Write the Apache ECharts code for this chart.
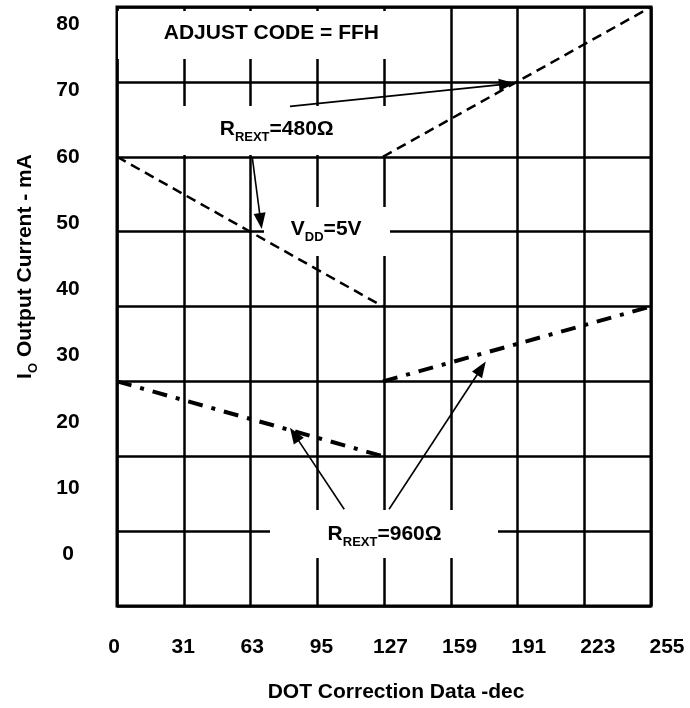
<!DOCTYPE html>
<html>
<head>
<meta charset="utf-8">
<script src="https://cdn.jsdelivr.net/npm/echarts@6/dist/echarts.min.js"></script>
<style>
  html, body { margin: 0; padding: 0; background: #fff; }
  #chart { width: 690px; height: 708px; }
</style>
</head>
<body>
<div id="chart"></div>
<script>
// Tick labels
const xTickLabels = ['0', '31', '63', '95', '127', '159', '191', '223', '255'];
const yTickValues = [0, 10, 20, 30, 40, 50, 60, 70, 80];

// Output current (mA) vs. dot-correction code, R_REXT = 480 Ω
const r480Low  = [[0, 60.0], [127, 37.4]];
const r480High = [[127, 60.0], [255, 82.6]];
// Output current (mA) vs. dot-correction code, R_REXT = 960 Ω
const r960Low  = [[0, 26.1], [127, 14.8]];
const r960High = [[127, 26.1], [255, 37.4]];

// Callout arrows: [from, to] in data units (code, mA)
const arrows = [
  [[82.6, 67.6], [190, 71.1]],
  [[64.6, 59.9], [69.1, 49.1]],
  [[108.5, 6.8], [82.6, 19.1]],
  [[129.9, 6.8], [176.1, 29.1]]
];

const FONT = "'Liberation Sans', Arial, Helvetica, sans-serif";
const Y_MIN = -7.8, Y_MAX = 82.6;

const main = { fontSize: 21, fontWeight: 'bold', fontFamily: FONT, color: '#000', lineHeight: 22, verticalAlign: 'top' };
const sub  = { fontSize: 13, fontWeight: 'bold', fontFamily: FONT, color: '#000', lineHeight: 37, verticalAlign: 'middle' };

const chart = echarts.init(document.getElementById('chart'));

const lineSeries = (data, style) => ({
  type: 'line', xAxisIndex: 0, yAxisIndex: 1, data: data,
  symbol: 'none', silent: true, lineStyle: style, z: 3
});
const dashed = { color: '#000', width: 2.5, type: [10, 6] };
const dashDot = { color: '#000', width: 4, type: [15, 9, 4, 9] };

chart.setOption({
  animation: false,
  backgroundColor: '#fff',
  textStyle: { fontFamily: FONT },
  grid: [
    { left: 117, top: 7, width: 534, height: 602, show: true, borderColor: '#000', borderWidth: 3, backgroundColor: 'transparent' },
    { left: 114, top: 7, width: 553, height: 602 }
  ],
  xAxis: [
    {
      gridIndex: 0, type: 'value', min: 0, max: 255, interval: 255 / 8,
      axisLine: { show: false }, axisTick: { show: false }, axisLabel: { show: false },
      splitLine: { show: true, lineStyle: { color: '#000', width: 2.5 } },
      name: 'DOT Correction Data -dec', nameLocation: 'middle', nameGap: 76,
      nameTextStyle: { fontSize: 21, fontWeight: 'bold', color: '#000', fontFamily: FONT, padding: [0, 0, 0, 24] }
    },
    {
      gridIndex: 1, type: 'category', data: xTickLabels, boundaryGap: false,
      axisLine: { show: false }, axisTick: { show: false }, splitLine: { show: false },
      axisLabel: { interval: 0, margin: 28, fontSize: 21, fontWeight: 'bold', color: '#000', fontFamily: FONT }
    }
  ],
  yAxis: [
    {
      gridIndex: 0, type: 'value', min: 0, max: 8, interval: 1, position: 'right',
      axisLine: { show: false }, axisTick: { show: false }, axisLabel: { show: false },
      splitLine: { show: true, lineStyle: { color: '#000', width: 2.5 } }
    },
    {
      gridIndex: 0, type: 'value', min: Y_MIN, max: Y_MAX, position: 'left',
      axisLine: { show: false }, axisTick: { show: false }, splitLine: { show: false },
      axisLabel: { customValues: yTickValues, align: 'center', margin: 49, fontSize: 21, fontWeight: 'bold', color: '#000', fontFamily: FONT },
      name: '{m|I}{s|O}{m| Output Current - mA}', nameLocation: 'middle', nameRotate: 90, nameGap: 65,
      nameTextStyle: { rich: { m: main, s: sub }, padding: [0, 0, 0, 80] }
    },
    { gridIndex: 1, type: 'value', show: false }
  ],
  series: [
    lineSeries(r480Low, dashed),
    lineSeries(r480High, dashed),
    lineSeries(r960Low, dashDot),
    lineSeries(r960High, dashDot)
  ]
});

// Annotations: white panels behind the captions, callout arrows, captions
const panels = [
  [118, 11, 420, 59],
  [120, 106, 420, 155],
  [264, 207, 390, 256],
  [270, 510, 498, 558]
];
const captions = [
  { x: 271.4, y: 34.2, text: '{m|ADJUST CODE = FFH}' },
  { x: 276.7, y: 137.2, text: '{m|R}{s|REXT}{m|=480Ω}' },
  { x: 326.2, y: 237.5, text: '{m|V}{s|DD}{m|=5V}' },
  { x: 384.6, y: 542.2, text: '{m|R}{s|REXT}{m|=960Ω}' }
];

const elements = [];
panels.forEach(p => elements.push({
  type: 'rect', silent: true, z: 1,
  shape: { x: p[0], y: p[1], width: p[2] - p[0], height: p[3] - p[1] },
  style: { fill: '#fff' }
}));

const HEAD_L = 16, HEAD_W = 12;
arrows.forEach(a => {
  const p0 = chart.convertToPixel({ seriesIndex: 0 }, a[0]);
  const p1 = chart.convertToPixel({ seriesIndex: 0 }, a[1]);
  const dx = p1[0] - p0[0], dy = p1[1] - p0[1];
  const len = Math.hypot(dx, dy);
  const ux = dx / len, uy = dy / len;
  const bx = p1[0] - ux * HEAD_L, by = p1[1] - uy * HEAD_L;
  elements.push({
    type: 'line', silent: true, z: 5,
    shape: { x1: p0[0], y1: p0[1], x2: bx + ux * 2, y2: by + uy * 2 },
    style: { stroke: '#000', lineWidth: 1.6 }
  });
  elements.push({
    type: 'polygon', silent: true, z: 5,
    shape: { points: [[p1[0], p1[1]], [bx - uy * HEAD_W / 2, by + ux * HEAD_W / 2], [bx + uy * HEAD_W / 2, by - ux * HEAD_W / 2]] },
    style: { fill: '#000' }
  });
});

captions.forEach(c => elements.push({
  type: 'text', silent: true, z: 6, x: c.x, y: c.y,
  style: { text: c.text, rich: { m: main, s: sub }, align: 'center', verticalAlign: 'middle', fill: '#000' }
}));

chart.setOption({ graphic: { elements: elements } });
</script>
</body>
</html>
